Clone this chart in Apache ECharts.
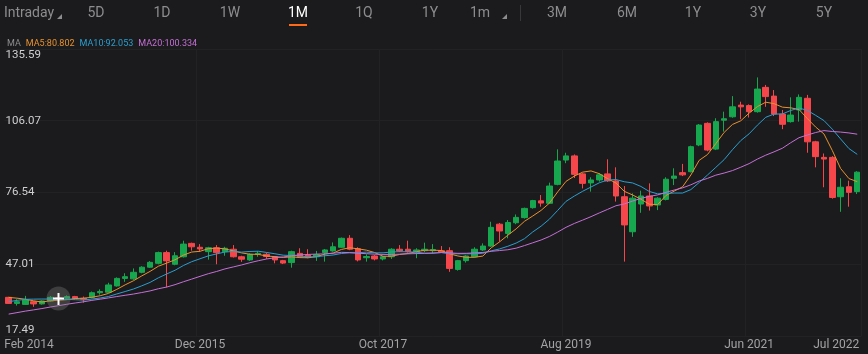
<!DOCTYPE html>
<html>
<head>
<meta charset="utf-8">
<script src="https://cdn.jsdelivr.net/npm/echarts@6/dist/echarts.min.js"></script>
<style>
  html, body { margin: 0; padding: 0; background: #1b1b1d; }
  #main { width: 868px; height: 354px; }
</style>
</head>
<body>
<div id="main"></div>
<script>
// monthly candles, Jan 2014 .. Jul 2022 (first one is only half in view)
var openP = [33.4, 30.9, 30.5, 31.6, 30.7, 31.9, 33.2, 33.0, 33.7, 33.0,
  33.4, 35.3, 35.5, 38.1, 41.2, 41.0, 43.7, 45.8, 47.4, 51.8,
  47.0, 50.1, 55.6, 54.0, 52.2, 53.8, 52.2, 53.2, 50.1, 48.8,
  51.1, 51.1, 50.1, 48.5, 47.7, 51.5, 50.8, 50.1, 51.8, 52.5,
  54.0, 57.7, 53.4, 49.7, 50.4, 49.2, 50.1, 53.2, 53.2, 52.2,
  52.6, 52.6, 52.6, 52.6, 44.9, 48.5, 50.1, 52.9, 54.5, 63.5,
  59.7, 64.1, 66.2, 70.3, 73.1, 72.1, 79.9, 89.9, 91.6, 84.2,
  80.5, 81.7, 84.2, 81.3, 74.8, 60.4, 71.8, 75.1, 71.4, 73.7,
  82.4, 84.7, 85.1, 96.1, 105.0, 94.4, 106.3, 107.7, 112.5, 112.3,
  109.8, 119.8, 116.2, 108.8, 105.7, 110.5, 115.3, 97.4, 91.0, 91.0,
  74.8, 78.9, 76.9];
var closeP = [30.9, 31.6, 32.3, 30.7, 31.9, 33.4, 32.6, 33.7, 32.9, 32.6,
  35.3, 35.8, 38.5, 41.2, 41.9, 43.7, 45.8, 47.8, 51.8, 48.4,
  50.5, 55.3, 54.2, 53.3, 53.8, 51.8, 53.6, 50.1, 49.1, 51.1,
  51.5, 50.2, 48.8, 47.5, 52.2, 50.1, 49.8, 51.0, 52.9, 54.2,
  57.7, 53.2, 48.8, 50.2, 49.2, 50.1, 53.2, 52.5, 52.2, 52.9,
  53.2, 53.1, 52.0, 45.3, 48.5, 50.4, 53.2, 54.5, 62.2, 60.7,
  64.2, 66.3, 70.0, 73.2, 72.2, 79.2, 89.5, 91.6, 84.0, 80.3,
  81.7, 83.8, 81.3, 75.1, 63.2, 74.2, 75.1, 71.0, 74.2, 82.0,
  83.3, 83.8, 95.4, 104.3, 94.0, 105.7, 106.9, 111.8, 111.8, 109.8,
  119.1, 116.0, 108.8, 104.6, 108.4, 115.7, 97.4, 91.3, 90.3, 74.5,
  78.7, 76.6, 84.9];
var lowP = [30.7, 30.0, 30.3, 29.5, 30.4, 31.6, 31.0, 32.6, 32.5, 31.2,
  33.0, 34.5, 35.2, 37.8, 39.8, 40.6, 43.3, 45.5, 47.0, 37.5,
  46.6, 49.8, 52.6, 52.2, 48.9, 47.0, 50.5, 49.8, 48.0, 48.4,
  50.1, 49.2, 47.4, 47.1, 45.6, 49.8, 49.5, 48.4, 48.1, 52.2,
  53.8, 52.8, 48.2, 48.1, 48.6, 48.6, 49.2, 52.0, 51.8, 49.5,
  51.9, 51.5, 51.8, 43.9, 44.4, 47.7, 49.8, 52.5, 54.2, 56.3,
  57.7, 63.5, 65.8, 69.9, 70.7, 71.8, 79.5, 88.6, 82.5, 78.2,
  76.9, 81.0, 80.9, 72.8, 48.1, 58.3, 68.2, 69.1, 69.3, 73.3,
  79.6, 83.3, 84.8, 95.6, 93.5, 94.0, 101.6, 107.3, 106.7, 107.4,
  109.4, 111.8, 108.0, 102.6, 105.3, 105.7, 92.9, 86.9, 78.7, 74.0,
  68.6, 70.7, 75.9];
var highP = [33.6, 32.6, 34.0, 31.9, 32.2, 33.9, 34.8, 34.2, 34.0, 33.7,
  35.8, 36.7, 39.4, 41.6, 43.3, 45.3, 46.2, 48.3, 52.2, 52.6,
  52.0, 56.7, 55.9, 55.3, 54.2, 54.9, 54.2, 54.9, 50.5, 51.5,
  52.4, 51.8, 50.4, 48.8, 52.6, 53.6, 53.2, 52.5, 53.3, 56.0,
  58.0, 59.0, 54.0, 51.1, 50.8, 50.4, 53.6, 54.9, 56.7, 53.6,
  55.9, 55.3, 54.5, 54.0, 48.8, 50.7, 54.0, 55.6, 64.5, 64.0,
  65.2, 67.5, 70.3, 73.5, 75.5, 80.6, 94.3, 92.9, 92.2, 84.6,
  82.8, 84.5, 90.2, 86.9, 79.2, 76.2, 77.3, 80.3, 74.6, 82.8,
  86.5, 88.3, 95.8, 104.7, 105.4, 107.1, 109.8, 116.2, 113.9, 112.8,
  123.9, 120.8, 118.7, 110.5, 115.7, 116.9, 116.7, 97.8, 92.6, 91.5,
  82.4, 81.4, 85.3];
// closes of the months before the window, only used to start the moving averages
var closeBefore = [19.5, 20.0, 20.4, 20.8, 21.0, 21.5, 22.0, 22.4, 22.9, 23.5,
  26.0, 28.0, 30.0, 31.5, 33.6, 33.2, 34.5, 34.0, 34.3];

var xTickLabels = ['Feb 2014', 'Dec 2015', 'Oct 2017', 'Aug 2019', 'Jun 2021', 'Jul 2022'];
var yTicks = [17.49, 47.01, 76.54, 106.07, 135.59];
var maNames = ['MA5', 'MA10', 'MA20'];
var maLegend = ['MA5:80.802', 'MA10:92.053', 'MA20:100.334'];

var monNames = ['Jan','Feb','Mar','Apr','May','Jun','Jul','Aug','Sep','Oct','Nov','Dec'];
var months = [];
for (var k = 0; k < closeP.length; k++) {
  months.push(monNames[k % 12] + ' ' + (2014 + Math.floor(k / 12)));
}

var candles = [];
for (var i = 0; i < closeP.length; i++) {
  candles.push([openP[i], closeP[i], lowP[i], highP[i]]);
}

function calcMA(n) {
  var all = closeBefore.concat(closeP);
  var off = closeBefore.length;
  var out = [];
  for (var i = 0; i < closeP.length; i++) {
    var s = 0;
    for (var j = 0; j < n; j++) s += all[off + i - j];
    out.push(+(s / n).toFixed(3));
  }
  return out;
}

var upColor = '#17a84f';
var downColor = '#f5474b';
var maColors = ['#e8912d', '#2a9fd0', '#c56fd6'];
var gridColor = '#222224';

var myChart = echarts.init(document.getElementById('main'), null, {renderer: 'canvas'});

// header tabs
var tabs = [['Intraday', 29], ['5D', 96], ['1D', 162], ['1W', 230], ['1M', 298], ['1Q', 364],
  ['1Y', 430], ['1m', 480], ['3M', 557], ['6M', 627], ['1Y', 693], ['3Y', 758], ['5Y', 824]];
var graphics = [];
tabs.forEach(function (t) {
  graphics.push({
    type: 'text', x: t[1], y: 13, silent: true,
    style: {
      text: t[0], fill: t[0] === '1M' ? '#ffffff' : '#8d8d8f',
      font: '14px Roboto', textAlign: 'center', textVerticalAlign: 'middle'
    }
  });
});
graphics.push({type: 'rect', shape: {x: 289, y: 24, width: 18, height: 2}, style: {fill: '#ff6a1a'}, silent: true});
graphics.push({type: 'polygon', shape: {points: [[57, 19], [62, 19], [62, 14]]}, style: {fill: '#8d8d8f'}, silent: true});
graphics.push({type: 'polygon', shape: {points: [[502, 19], [507, 19], [507, 14]]}, style: {fill: '#8d8d8f'}, silent: true});
graphics.push({type: 'line', shape: {x1: 520.5, y1: 5, x2: 520.5, y2: 21}, style: {stroke: '#38383a', lineWidth: 1}, silent: true});
// cursor left on the chart
graphics.push({type: 'circle', shape: {cx: 58.5, cy: 298.5, r: 12}, style: {fill: 'rgba(128,128,128,0.35)'}, silent: true, z: 100});
graphics.push({type: 'line', shape: {x1: 53, y1: 298.5, x2: 64, y2: 298.5}, style: {stroke: '#ffffff', lineWidth: 2}, silent: true, z: 101});
graphics.push({type: 'line', shape: {x1: 58.5, y1: 293, x2: 58.5, y2: 305}, style: {stroke: '#ffffff', lineWidth: 2}, silent: true, z: 101});

var showIdx = function (index, value) {
  return xTickLabels.indexOf(value) >= 0;
};
var splitIdx = function (index, value) {
  return xTickLabels.indexOf(value) > 0 && xTickLabels.indexOf(value) < xTickLabels.length - 1;
};

var series = [{
  name: 'K',
  type: 'candlestick',
  data: candles,
  barWidth: 6,
  itemStyle: {
    color: upColor, color0: downColor,
    borderColor: upColor, borderColor0: downColor,
    borderWidth: 1
  }
}];
maNames.forEach(function (nm, idx) {
  series.push({
    name: nm,
    type: 'line',
    data: calcMA([5, 10, 20][idx]),
    symbol: 'none',
    smooth: false,
    lineStyle: {width: 1, color: maColors[idx]},
    z: 3
  });
});

var option = {
  backgroundColor: '#1b1b1d',
  animation: false,
  title: {
    left: 2, top: 34,
    text: '{g|MA}  {o|' + maLegend[0] + '}  {b|' + maLegend[1] + '}  {p|' + maLegend[2] + '}',
    textStyle: {
      fontSize: 9, fontWeight: 'normal',
      rich: {
        g: {color: '#8d8d8f', fontSize: 9, fontFamily: 'Roboto'},
        o: {color: maColors[0], fontSize: 9, fontFamily: 'Roboto'},
        b: {color: maColors[1], fontSize: 9, fontFamily: 'Roboto'},
        p: {color: maColors[2], fontSize: 9, fontFamily: 'Roboto'}
      }
    }
  },
  graphic: graphics,
  grid: {left: 4.5, right: 6.6, top: 49, bottom: 18},
  xAxis: {
    type: 'category',
    data: months,
    boundaryGap: true,
    axisLine: {show: false},
    axisTick: {show: false},
    axisLabel: {
      interval: showIdx,
      color: '#a3a3a5',
      fontSize: 12,
      fontFamily: 'Roboto',
      margin: 3,
      formatter: function (value, index) {
        if (value === xTickLabels[0]) return '{first|' + value + '}';
        if (value === xTickLabels[xTickLabels.length - 1]) return '{last|' + value + '}';
        return value;
      },
      rich: {
        first: {padding: [0, 0, 0, 24], color: '#a3a3a5', fontSize: 12, fontFamily: 'Roboto'},
        last: {padding: [0, 42, 0, 0], color: '#a3a3a5', fontSize: 12, fontFamily: 'Roboto'}
      }
    },
    splitLine: {show: true, interval: splitIdx, lineStyle: {color: gridColor, width: 1}}
  },
  yAxis: {
    type: 'value',
    min: yTicks[0],
    max: yTicks[yTicks.length - 1],
    scale: true,
    axisLine: {show: false},
    axisTick: {show: false, customValues: yTicks},
    axisLabel: {
      inside: true,
      customValues: yTicks,
      margin: 1,
      color: '#cfcfd1',
      fontSize: 11.5,
      fontFamily: 'Roboto',
      formatter: function (v) {
        var s = v.toFixed(2);
        if (v === yTicks[yTicks.length - 1]) return '{top|' + s + '}';
        if (v === yTicks[0]) return '{bot|' + s + '}';
        return s;
      },
      rich: {
        top: {padding: [12, 0, 0, 0], color: '#cfcfd1', fontSize: 11.5, fontFamily: 'Roboto'},
        bot: {padding: [0, 0, 12, 0], color: '#cfcfd1', fontSize: 11.5, fontFamily: 'Roboto'}
      }
    },
    splitLine: {show: true, lineStyle: {color: gridColor, width: 1}}
  },
  series: series
};

myChart.setOption(option);
</script>
</body>
</html>
